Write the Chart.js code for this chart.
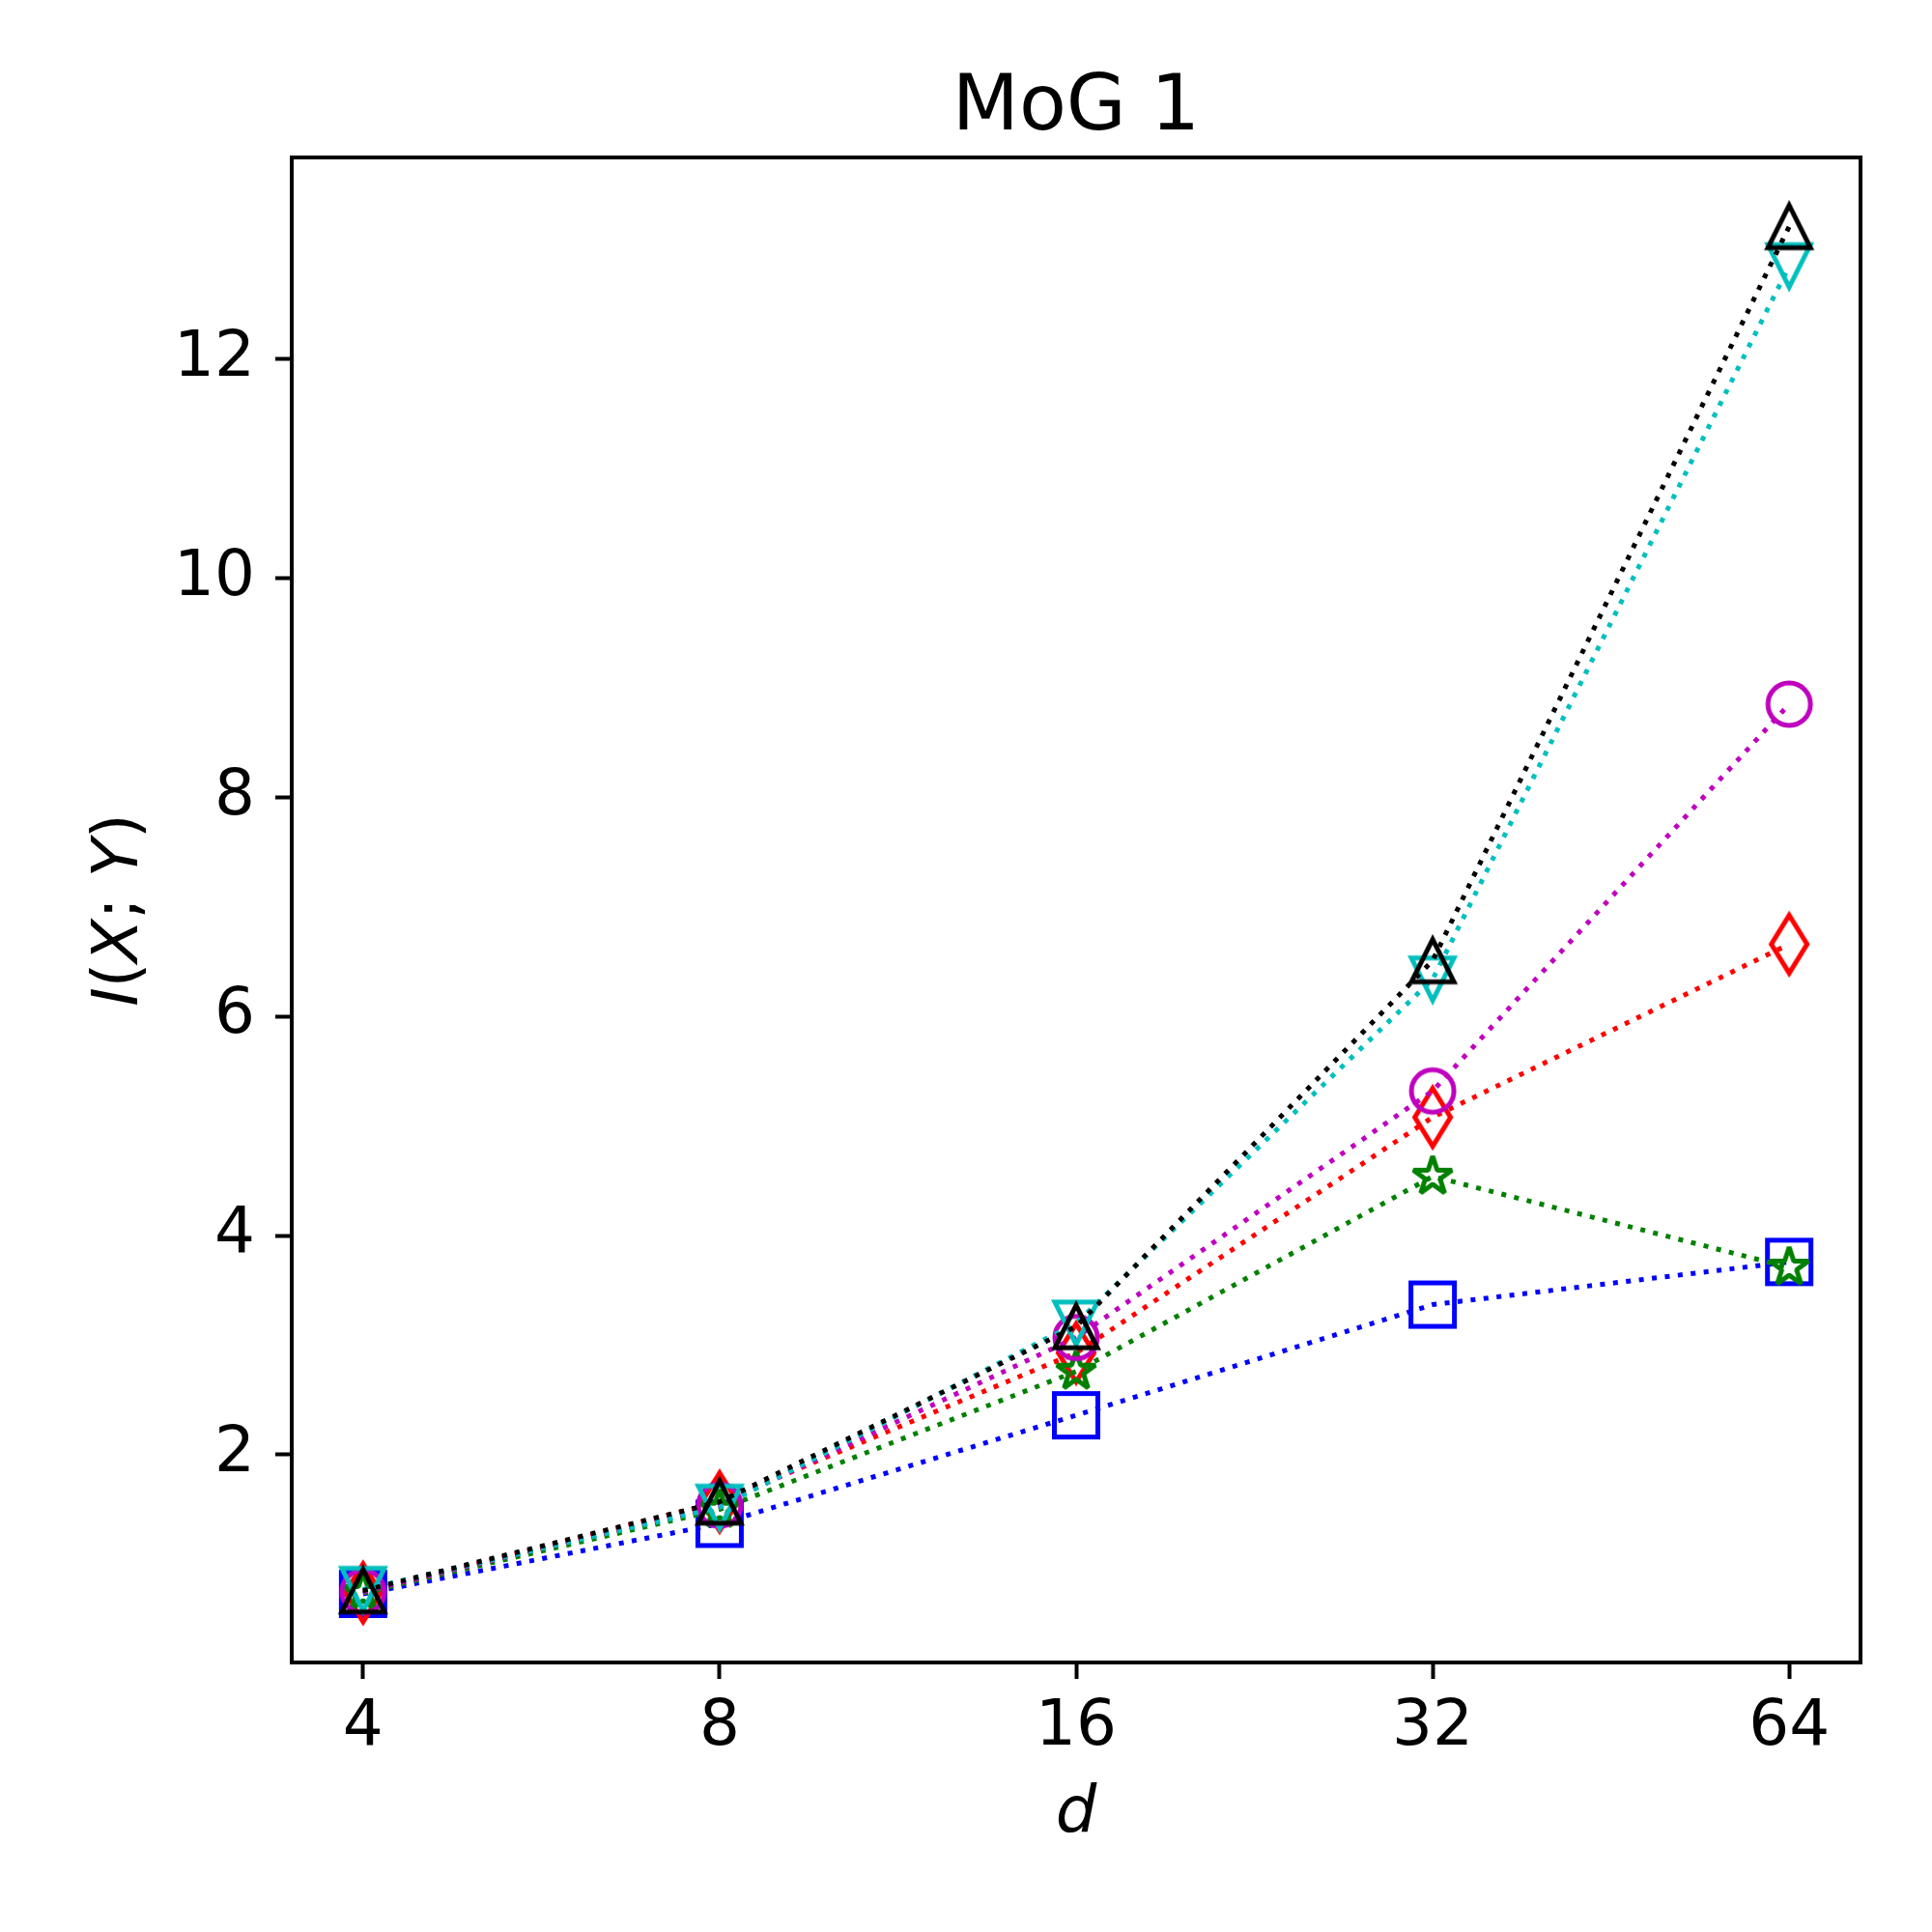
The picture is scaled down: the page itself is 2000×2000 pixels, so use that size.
<!DOCTYPE html>
<html>
<head>
<meta charset="utf-8">
<title>MoG 1</title>
<script src="https://cdn.jsdelivr.net/npm/chart.js@4.4.1/dist/chart.umd.min.js"></script>
<style>
  html, body { margin: 0; padding: 0; background: #ffffff; }
  #chartBox { width: 2000px; height: 2000px; }
</style>
</head>
<body>
<div id="chartBox"><canvas id="mogChart" width="2000" height="2000"></canvas></div>
<script>
// values
const dims = [4, 8, 16, 32, 64];
const yTicks = [2, 4, 6, 8, 10, 12];
const seriesBlue = [0.73, 1.37, 2.36, 3.37, 3.76];
const seriesRed = [0.74, 1.57, 2.93, 5.08, 6.66];
const seriesGreen = [0.74, 1.50, 2.76, 4.54, 3.71];
const seriesMagenta = [0.75, 1.54, 3.07, 5.32, 8.85];
const seriesCyan = [0.77, 1.52, 3.20, 6.34, 12.85];
const seriesBlack = [0.76, 1.57, 3.17, 6.51, 13.21];

const chartTitle = "MoG 1";
const xLabel = "d";
// mathtext style label: [text, italic]
const yLabelParts = [["I", true], ["(", false], ["X", true], [";", false], [" ", false], ["Y", true], [")", false]];

const FONT = '"DejaVu Sans"';

// unfilled matplotlib-like marker glyphs
function makeMarker(shape, color) {
    const c = document.createElement('canvas');
    c.width = 80; c.height = 80;
    const g = c.getContext('2d');
    g.strokeStyle = color;
    g.lineWidth = 5;
    g.lineJoin = 'miter';
    g.translate(40, 40);
    g.beginPath();
    if (shape === 'square') {
        g.rect(-22.5, -22.5, 45, 45);
    } else if (shape === 'circle') {
        g.arc(0, 0, 22, 0, Math.PI * 2);
    } else if (shape === 'triUp') {
        g.moveTo(0, -22); g.lineTo(22, 22); g.lineTo(-22, 22);
    } else if (shape === 'triDown') {
        g.moveTo(0, 22); g.lineTo(22, -22); g.lineTo(-22, -22);
    } else if (shape === 'thinDiamond') {
        g.moveTo(0, -30); g.lineTo(18.5, 0); g.lineTo(0, 30); g.lineTo(-18.5, 0);
    } else if (shape === 'star') {
        g.lineJoin = 'bevel';
        const R = 21, r = 21 * 0.382;
        for (let k = 0; k < 10; k++) {
            const rad = k % 2 === 0 ? R : r;
            const ang = -Math.PI / 2 + k * Math.PI / 5;
            if (k === 0) g.moveTo(rad * Math.cos(ang), rad * Math.sin(ang));
            else g.lineTo(rad * Math.cos(ang), rad * Math.sin(ang));
        }
    }
    g.closePath();
    g.stroke();
    return c;
}

const seriesList = [
    { name: 'blue', values: seriesBlue, color: '#0000ff', marker: 'square' },
    { name: 'red', values: seriesRed, color: '#ff0000', marker: 'thinDiamond' },
    { name: 'green', values: seriesGreen, color: '#008000', marker: 'star' },
    { name: 'magenta', values: seriesMagenta, color: '#bf00bf', marker: 'circle' },
    { name: 'cyan', values: seriesCyan, color: '#00bfbf', marker: 'triDown' },
    { name: 'black', values: seriesBlack, color: '#000000', marker: 'triUp' }
];

function buildDatasets() {
    return seriesList.map((s, i) => ({
        label: s.name,
        data: dims.map((d, j) => ({ x: d, y: s.values[j] })),
        borderColor: s.color,
        borderWidth: 5,
        borderDash: [5, 8.5],
        borderCapStyle: 'butt',
        tension: 0,
        fill: false,
        pointStyle: makeMarker(s.marker, s.color),
        pointRadius: 20,
        order: seriesList.length - i   // later series drawn on top
    }));
}

const mogDecorPlugin = {
    id: 'mogDecor',
    afterDraw(chart) {
        const ctx = chart.ctx;
        const a = chart.chartArea;
        const cx = (a.left + a.right) / 2;
        ctx.save();
        // axes frame
        ctx.strokeStyle = '#000000';
        ctx.lineWidth = 4;
        ctx.strokeRect(a.left, a.top, a.right - a.left, a.bottom - a.top);

        ctx.fillStyle = '#000000';
        ctx.textAlign = 'center';
        ctx.textBaseline = 'alphabetic';
        ctx.font = '80px ' + FONT;
        ctx.fillText(chartTitle, cx, a.top - 29);

        ctx.font = 'italic 67px ' + FONT;
        ctx.fillText(xLabel, cx, a.bottom + 176);

        // rotated y label built from pieces
        ctx.textAlign = 'left';
        let total = 0;
        yLabelParts.forEach(p => {
            ctx.font = (p[1] ? 'italic ' : '') + '66px ' + FONT;
            total += ctx.measureText(p[0]).width;
        });
        ctx.translate(a.left - 160, (a.top + a.bottom) / 2);
        ctx.rotate(-Math.PI / 2);
        let px = -total / 2;
        yLabelParts.forEach(p => {
            ctx.font = (p[1] ? 'italic ' : '') + '66px ' + FONT;
            ctx.fillText(p[0], px, 0);
            px += ctx.measureText(p[0]).width;
        });
        ctx.restore();
    }
};

function initializeMogChart() {
    const ctx = document.getElementById('mogChart').getContext('2d');
    new Chart(ctx, {
        type: 'line',
        data: { datasets: buildDatasets() },
        options: {
            responsive: false,
            animation: false,
            devicePixelRatio: 1,
            layout: { padding: { top: 163, right: 74, bottom: 0, left: 0 } },
            plugins: { legend: { display: false }, tooltip: { enabled: false }, title: { display: false } },
            scales: {
                x: {
                    type: 'logarithmic',
                    min: Math.pow(2, 1.8),
                    max: Math.pow(2, 6.2),
                    afterBuildTicks: (axis) => { axis.ticks = dims.map(v => ({ value: v })); },
                    afterFit: (axis) => { axis.height = 279; },
                    border: { display: false },
                    grid: { display: true, drawOnChartArea: false, drawTicks: true, tickLength: 17, tickWidth: 4, tickColor: '#000000' },
                    ticks: {
                        color: '#000000', font: { family: 'DejaVu Sans', size: 66 },
                        padding: 11, maxRotation: 0, autoSkip: false,
                        callback: (value) => String(value)
                    }
                },
                y: {
                    type: 'linear',
                    min: 0.104,
                    max: 13.84,
                    afterBuildTicks: (axis) => { axis.ticks = yTicks.map(v => ({ value: v })); },
                    afterFit: (axis) => { axis.width = 302; },
                    border: { display: false },
                    grid: { display: true, drawOnChartArea: false, drawTicks: true, tickLength: 17, tickWidth: 4, tickColor: '#000000' },
                    ticks: {
                        color: '#000000', font: { family: 'DejaVu Sans', size: 66 },
                        padding: 21, autoSkip: false,
                        callback: (value) => String(value)
                    }
                }
            }
        },
        plugins: [mogDecorPlugin]
    });
}

window.onload = initializeMogChart;
</script>
</body>
</html>
